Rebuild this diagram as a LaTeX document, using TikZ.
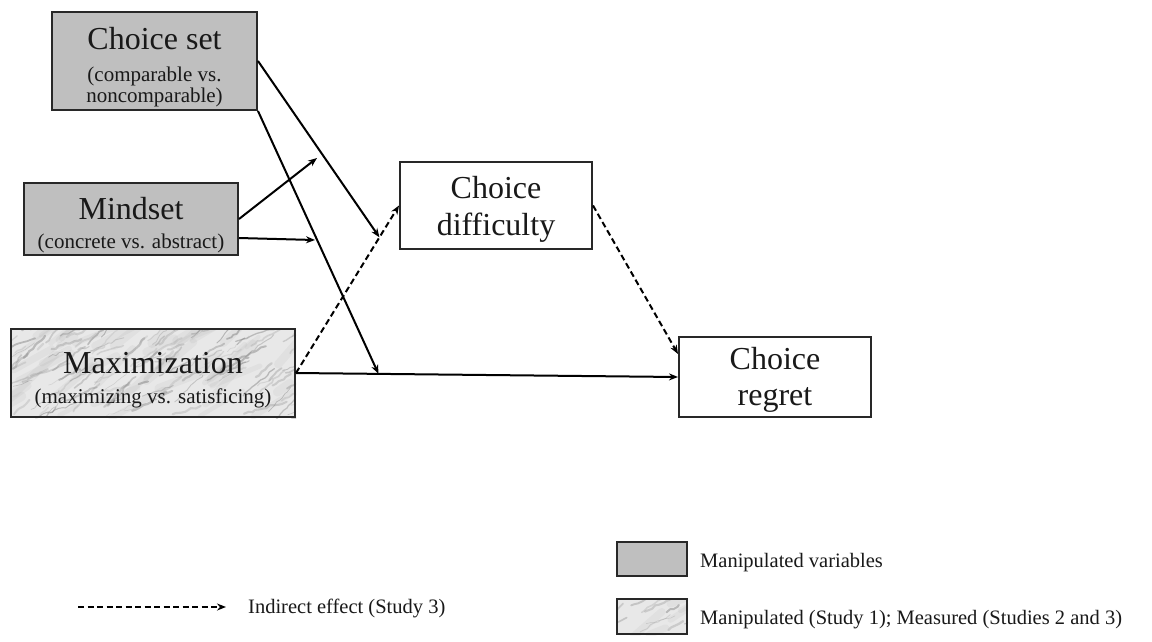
\documentclass[tikz,border=0pt]{standalone}
\usepackage{fontspec}
\setmainfont{Liberation Serif}
\usetikzlibrary{arrows.meta,calc,backgrounds,decorations.pathmorphing}
\definecolor{boxgray}{RGB}{191,191,191}
\definecolor{bordergray}{RGB}{40,40,40}
\definecolor{marblebase}{RGB}{232,232,232}
\definecolor{vein}{RGB}{130,130,130}
\tikzset{
  gbox/.style={draw=bordergray, line width=2pt, fill=boxgray, inner sep=0pt},
  wbox/.style={draw=bordergray, line width=2pt, fill=white, inner sep=0pt},
  mbox/.style={draw=bordergray, line width=2pt, inner sep=0pt},
  big/.style={font=\fontsize{32}{36}\selectfont, anchor=base, inner sep=0pt, text=black!90},
  small/.style={font=\fontsize{21}{24}\selectfont, anchor=base, inner sep=0pt, text=black!90},
  legtext/.style={font=\fontsize{20.5}{24}\selectfont, anchor=base west, inner sep=0pt, text=black!90},
  arr/.style={line width=2pt, -{Stealth[length=9pt,width=7pt]}},
  darr/.style={arr, dash pattern=on 6pt off 3.5pt},
}
\newcommand\marblefill[4]{% node, width, height, seed
  \begin{scope}
    \clip (#1.south west) rectangle (#1.north east);
    \fill[marblebase] (#1.south west) rectangle (#1.north east);
    \pgfmathsetseed{#4}
    % soft mottling
    \foreach \k in {1,...,\numexpr #2*#3/500\relax}{
      \pgfmathsetmacro{\px}{rnd*(#2+20)-10}
      \pgfmathsetmacro{\py}{rnd*(#3+10)-5}
      \pgfmathsetmacro{\ang}{-20-rnd*30}
      \pgfmathsetmacro{\len}{15+rnd*50}
      \pgfmathsetmacro{\lw}{4+rnd*6}
      \draw[vein, opacity=0.08, line width=\lw pt, line cap=round]
        ($(#1.north west)+(\px,\py)$) -- ++(\ang:\len);
    }
    % veins
    \foreach \k in {1,...,\numexpr #2*#3/180\relax}{
      \pgfmathsetmacro{\px}{rnd*(#2+20)-10}
      \pgfmathsetmacro{\py}{rnd*(#3+10)-5}
      \pgfmathsetmacro{\ang}{-15-rnd*35}
      \pgfmathsetmacro{\len}{8+rnd*40}
      \pgfmathsetmacro{\lw}{0.5+rnd*1.8}
      \pgfmathsetmacro{\op}{0.15+rnd*0.35}
      \draw[vein, opacity=\op, line width=\lw pt, line cap=round,
            decorate, decoration={random steps, segment length=4pt, amplitude=1.2pt}]
        ($(#1.north west)+(\px,\py)$) -- ++(\ang:\len);
    }
  \end{scope}
}
\begin{document}
\begin{tikzpicture}[x=1pt,y=-1pt]
\useasboundingbox (0,0) rectangle (1152,641);

% boxes
\node[gbox, minimum width=205pt, minimum height=98pt] (cs) at (154.5,61) {};
\node[gbox, minimum width=214pt, minimum height=72pt] (ms) at (131,219) {};
\node[mbox, minimum width=284pt, minimum height=88pt] (mx) at (153,373) {};
\node[wbox, minimum width=192pt, minimum height=87pt] (cd) at (496,205.5) {};
\node[wbox, minimum width=192pt, minimum height=80pt] (cr) at (775,377) {};
\node[gbox, minimum width=70pt, minimum height=34pt] (lg1) at (652,559) {};
\node[mbox, minimum width=70pt, minimum height=35pt] (lg2) at (652,616.5) {};

\begin{pgfonlayer}{background}
  \fill[white] (0,0) rectangle (1152,641);
  \marblefill{mx}{284}{88}{11}
  \marblefill{lg2}{70}{35}{5}
\end{pgfonlayer}

% texts
\node[big]   (tcs1) at (154.5,49) {Choice set};
\node[small] (tcs2) at (154.5,81) {(comparable vs.};
\node[small] (tcs3) at (154.5,102) {noncomparable)};
\node[big]   (tms1) at (131,219) {Mindset};
\node[small] (tms2) at (131,248) {(concrete vs. abstract)};
\node[big]   (tmx1) at (153,373) {Maximization};
\node[small] (tmx2) at (153,403) {(maximizing vs. satisficing)};
\node[big]   (tcd1) at (496,198) {Choice};
\node[big]   (tcd2) at (496,235) {difficulty};
\node[big]   (tcr1) at (775,369) {Choice};
\node[big]   (tcr2) at (775,405) {regret};

% connector end points
\coordinate (p1) at ($(mx.east)!0.81!(cd.west)$);
\coordinate (p2) at ($(mx.east)!0.216!(cr.west)$);
\coordinate (p3) at (317,158);
\coordinate (p4) at (315,240);

% connectors
\draw[arr] (cs.east) -- (p1);
\draw[arr] (cs.south east) -- (p2);
\draw[arr] (ms.east) -- (p3);
\draw[arr] ([yshift=-19pt]ms.east) -- (p4);
\draw[arr] (mx.east) -- (cr.west);
\draw[darr] (mx.east) -- (cd.west);
\draw[darr] (cd.east) -- ([yshift=-18pt]cr.north west);

% legend
\coordinate (la) at (78,607);
\coordinate (lb) at (226,607);
\draw[darr] (la) -- (lb);
\node[legtext] (ltx0) at (248,613) {Indirect effect (Study 3)};
\node[legtext] (ltx1) at (700,567) {Manipulated variables};
\node[legtext] (ltx2) at (700,624) {Manipulated (Study 1); Measured (Studies 2 and 3)};
\end{tikzpicture}
\end{document}
